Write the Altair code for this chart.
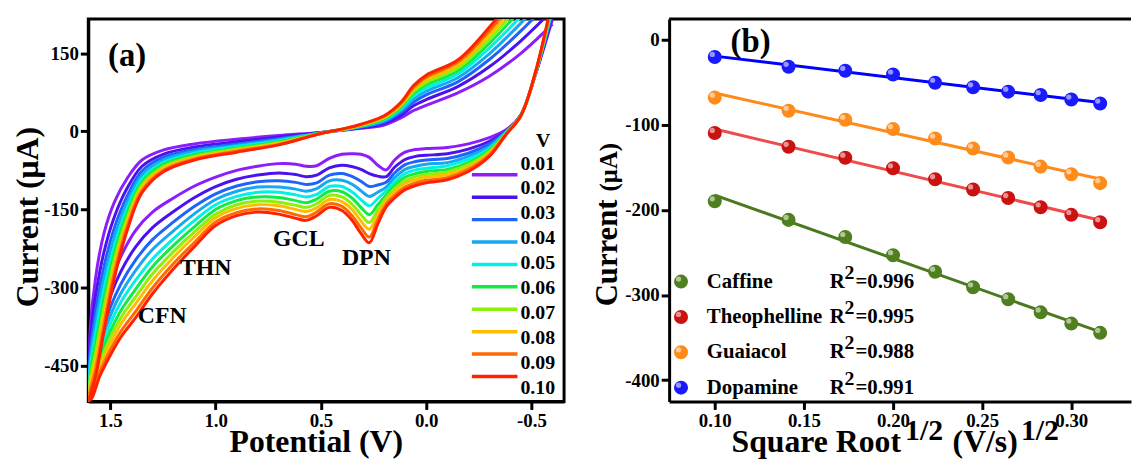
import altair as alt
import pandas as pd

FONT = "Liberation Serif"

# ---------------- Panel (a): cyclic voltammograms ----------------
rates = ["0.01", "0.02", "0.03", "0.04", "0.05", "0.06", "0.07", "0.08", "0.09", "0.10"]
rate_colors = ["#8d1dfb", "#4a12ee", "#1f63fb", "#16a8f2", "#00f2e4",
               "#12ea45", "#8cf00a", "#ffbd00", "#ff6a00", "#ff2200"]

# forward (upper) branch potentials, V
pot_up = [-0.60, -0.45, -0.30, -0.15, 0.00, 0.06, 0.12, 0.20, 0.35, 0.50, 0.70,
          0.90, 1.10, 1.25, 1.35, 1.42, 1.48, 1.53, 1.57, 1.60, 1.605]
cur_up = {
    "0.01": [206, 150, 106, 74, 50, 40, 26, 12, 4, -2, -8, -15, -24, -36, -55, -90, -135, -195, -280, -400, -518],
    "0.02": [233, 174, 124, 86, 61, 49, 31, 15, 5, -2, -11, -20, -30, -44, -67, -109, -163, -231, -316, -421, -518],
    "0.03": [255, 193, 138, 95, 70, 56, 36, 18, 6, -3, -14, -24, -35, -50, -76, -124, -184, -259, -345, -438, -518],
    "0.04": [272, 208, 149, 103, 77, 62, 40, 20, 6, -3, -16, -27, -38, -55, -84, -136, -202, -281, -367, -452, -518],
    "0.05": [288, 221, 160, 110, 83, 68, 43, 22, 7, -3, -18, -29, -42, -60, -91, -147, -218, -302, -388, -464, -518],
    "0.06": [302, 234, 169, 116, 89, 73, 46, 24, 7, -3, -20, -32, -45, -64, -97, -157, -232, -321, -407, -475, -518],
    "0.07": [315, 245, 177, 122, 94, 77, 49, 26, 8, -4, -22, -34, -48, -68, -103, -166, -245, -338, -424, -485, -518],
    "0.08": [327, 255, 185, 127, 99, 81, 51, 27, 8, -4, -23, -36, -50, -71, -108, -174, -257, -353, -440, -494, -518],
    "0.09": [340, 266, 193, 133, 104, 85, 54, 29, 9, -4, -25, -38, -53, -75, -114, -183, -270, -370, -457, -504, -518],
    "0.10": [350, 275, 200, 137, 108, 88, 56, 30, 9, -4, -26, -40, -55, -78, -118, -190, -280, -383, -470, -512, -518],
}

# reverse (lower) branch potentials, V
pot_down = [1.605, 1.59, 1.55, 1.50, 1.45, 1.38, 1.30, 1.20, 1.10, 1.00, 0.90, 0.80,
            0.70, 0.62, 0.57, 0.52, 0.46, 0.40, 0.35, 0.31, 0.27, 0.23, 0.19, 0.15,
            0.10, 0.05, 0.00, -0.10, -0.20, -0.30, -0.38, -0.45, -0.52, -0.60]
cur_down = {
    "0.01": [-518, -470, -370, -290, -240, -190, -155, -128, -105, -88, -75, -67, -62, -63, -67, -66, -52, -44, -43, -44, -50, -65, -74, -55, -40, -35, -33, -31, -24, -12, 3, 32, 110, 215],
    "0.02": [-518, -478, -389, -317, -269, -222, -185, -154, -127, -106, -92, -84, -80, -83, -87, -84, -70, -65, -68, -73, -81, -86, -87, -69, -54, -48, -46, -43, -34, -19, 1, 32, 111, 223],
    "0.03": [-518, -485, -404, -338, -293, -247, -208, -174, -144, -120, -105, -97, -95, -98, -102, -99, -84, -81, -87, -96, -106, -103, -98, -80, -64, -58, -55, -52, -42, -24, 0, 31, 112, 229],
    "0.04": [-518, -490, -416, -354, -311, -267, -227, -191, -158, -131, -115, -107, -107, -111, -115, -110, -95, -94, -102, -114, -125, -117, -107, -89, -73, -67, -63, -60, -48, -29, -1, 31, 112, 233],
    "0.05": [-518, -495, -427, -370, -328, -286, -245, -206, -171, -141, -125, -117, -117, -122, -126, -121, -106, -106, -117, -131, -143, -129, -114, -97, -81, -74, -71, -66, -54, -33, -2, 31, 113, 238],
    "0.06": [-518, -499, -437, -384, -344, -303, -260, -219, -183, -150, -133, -126, -127, -133, -137, -130, -115, -116, -129, -146, -160, -141, -122, -104, -88, -81, -77, -73, -60, -36, -3, 31, 113, 242],
    "0.07": [-518, -503, -446, -396, -358, -318, -274, -231, -193, -159, -141, -134, -136, -142, -146, -139, -123, -126, -141, -160, -175, -151, -128, -110, -95, -87, -83, -78, -64, -39, -4, 30, 114, 245],
    "0.08": [-518, -507, -454, -408, -370, -331, -287, -242, -202, -166, -148, -141, -143, -150, -154, -147, -131, -135, -151, -172, -188, -160, -134, -116, -100, -93, -88, -83, -69, -42, -5, 30, 114, 249],
    "0.09": [-518, -511, -463, -420, -384, -346, -301, -254, -213, -174, -156, -149, -152, -160, -164, -155, -139, -144, -163, -185, -203, -170, -140, -123, -107, -99, -94, -89, -73, -45, -5, 30, 115, 252],
    "0.10": [-518, -514, -470, -430, -395, -358, -312, -264, -221, -181, -162, -155, -159, -167, -171, -162, -146, -152, -172, -196, -214, -178, -145, -128, -112, -104, -99, -93, -77, -48, -6, 30, 115, 255],
}

peak_labels = ["GCL", "DPN", "THN", "CFN"]
peak_pot = [0.605, 0.284, 1.047, 1.254]
peak_cur = [-206, -244, -263, -354]

# ---------------- Panel (b): peak current vs sqrt(scan rate) ----------------
sqrt_rate = [0.1, 0.1414, 0.1732, 0.2, 0.2236, 0.2449, 0.2646, 0.2828, 0.3, 0.3162]
analytes = ["Caffine", "Theophelline", "Guaiacol", "Dopamine"]
r2_text = ["=0.996", "=0.995", "=0.988", "=0.991"]
peak_current = {
    "Caffine": [-189.9, -211.7, -231.8, -253.2, -272.6, -290.9, -304.9, -320.4, -333.6, -344.5],
    "Theophelline": [-109.5, -125.8, -138.6, -151.0, -163.9, -175.9, -186.0, -196.9, -205.8, -214.4],
    "Guaiacol": [-68.0, -83.5, -94.0, -104.9, -116.1, -127.8, -138.3, -149.1, -158.0, -168.5],
    "Dopamine": [-20.2, -31.8, -36.5, -40.8, -50.5, -55.9, -61.0, -64.9, -70.3, -75.0],
}
point_colors = ["#4f7f1f", "#cc1111", "#ff8c1a", "#1a1aff"]
line_colors = ["#4a7a20", "#f04a4a", "#ff8a1a", "#0000ff"]

# ---------------- tables ----------------
rows = []
for r in rates:
    assert len(cur_up[r]) == len(pot_up) and len(cur_down[r]) == len(pot_down)
    pts = list(zip(pot_up, cur_up[r])) + list(zip(pot_down, cur_down[r]))
    for i, (p, c) in enumerate(pts):
        rows.append({"rate": r, "idx": i, "pot": p, "cur": c})
cv = pd.DataFrame(rows)
leg_a = pd.DataFrame({"rate": rates})
ann = pd.DataFrame({"label": peak_labels, "pot": peak_pot, "cur": peak_cur})

brows = []
for n in analytes:
    for s, c in zip(sqrt_rate, peak_current[n]):
        brows.append({"name": n, "sx": s, "cur": c})
pb = pd.DataFrame(brows)
leg_b = pd.DataFrame({"name": analytes, "r2": r2_text})

W_A, W_B, H = 480, 466, 386


def txt(text, x, y, size, align="left", baseline="alphabetic", angle=0):
    return alt.Chart(pd.DataFrame({"t": [text]})).mark_text(
        font=FONT, fontWeight="bold", fontSize=size, align=align,
        baseline=baseline, angle=angle, color="black"
    ).encode(text="t:N", x=alt.value(x), y=alt.value(y))


def neg_expr(fmt):
    return ("datum.value < 0 ? '-' + format(-datum.value, '%s') : format(datum.value, '%s')"
            % (fmt, fmt))


# ---------------- Panel (a) chart ----------------
xa = alt.Scale(domain=[-0.655, 1.605], reverse=True, nice=False, zero=False)
ya = alt.Scale(domain=[-519, 216], nice=False, zero=False)
col_a = alt.Scale(domain=rates, range=rate_colors)
x_axis_a = alt.Axis(values=[1.5, 1.0, 0.5, 0.0, -0.5], labelExpr=neg_expr(".1f"), title=None)

cv_lines = alt.Chart(cv).mark_line(strokeWidth=3, clip=True, interpolate="catmull-rom").encode(
    x=alt.X("pot:Q", scale=xa, axis=x_axis_a),
    y=alt.Y("cur:Q", scale=ya, axis=alt.Axis(values=[150, 0, -150, -300, -450],
                                             labelExpr=neg_expr("d"), title=None)),
    color=alt.Color("rate:N", scale=col_a, legend=None),
    order=alt.Order("idx:Q"),
)

leg_y = alt.Scale(domain=rates, range=[146, 372], padding=0)
leg_rules = alt.Chart(leg_a).mark_rule(strokeWidth=3.5).encode(
    x=alt.value(387), x2=alt.value(433),
    y=alt.Y("rate:N", scale=leg_y, axis=None),
    color=alt.Color("rate:N", scale=col_a, legend=None),
)
leg_text = alt.Chart(leg_a).mark_text(
    font=FONT, fontWeight="bold", fontSize=20, align="left", baseline="middle", color="black"
).encode(x=alt.value(436), y=alt.Y("rate:N", scale=leg_y, axis=None), text="rate:N")

ann_text = alt.Chart(ann).mark_text(
    font=FONT, fontWeight="bold", fontSize=24, align="center", baseline="middle", color="black"
).encode(
    x=alt.X("pot:Q", scale=xa, axis=x_axis_a),
    y=alt.Y("cur:Q", scale=ya, axis=None),
    text="label:N",
)

marker = alt.Chart(pd.DataFrame({"m": [0]})).mark_rule(color="white", strokeWidth=1).encode(
    x=alt.value(-79), y=alt.value(-7), y2=alt.value(0)
)

panel_a = alt.layer(
    cv_lines, marker, leg_rules, leg_text, ann_text,
    txt("V", 459, 123, 20, align="center", baseline="middle"),
    txt("(a)", 20, 47, 33),
    txt("Current (μA)", -61, 200, 32, align="center", baseline="middle", angle=270),
    txt("Potential (V)", 230, 437, 32, align="center"),
).resolve_scale(y="independent").properties(
    width=W_A, height=H, view=alt.ViewBackground(stroke="black", strokeWidth=3)
)

# ---------------- Panel (b) chart ----------------
xb = alt.Scale(domain=[0.0744, 0.3335], nice=False, zero=False)
yb = alt.Scale(domain=[-425.2, 24.5], nice=False, zero=False)
pcol = alt.Scale(domain=analytes, range=point_colors)
lcol = alt.Scale(domain=analytes, range=line_colors)
x_axis_b = alt.Axis(values=[0.10, 0.15, 0.20, 0.25, 0.30], format=".2f", title=None)

fit_lines = alt.Chart(pb).transform_regression("sx", "cur", groupby=["name"]).mark_line(
    strokeWidth=3
).encode(
    x=alt.X("sx:Q", scale=xb, axis=x_axis_b),
    y=alt.Y("cur:Q", scale=yb, axis=alt.Axis(values=[0, -100, -200, -300, -400],
                                             labelExpr=neg_expr("d"), title=None)),
    color=alt.Color("name:N", scale=lcol, legend=None),
)
pts = alt.Chart(pb).mark_circle(size=200, opacity=1).encode(
    x=alt.X("sx:Q", scale=xb, axis=x_axis_b),
    y=alt.Y("cur:Q", scale=yb, axis=None),
    color=alt.Color("name:N", scale=pcol, legend=None),
)
shine = alt.Chart(pb).mark_circle(size=28, opacity=0.55, color="white", xOffset=-2.5, yOffset=-2.5).encode(
    x=alt.X("sx:Q", scale=xb, axis=x_axis_b),
    y=alt.Y("cur:Q", scale=yb, axis=None),
)

leg_yb = alt.Scale(domain=analytes, range=[265, 372], padding=0)
leg_pts = alt.Chart(leg_b).mark_circle(size=200, opacity=1).encode(
    x=alt.value(12), y=alt.Y("name:N", scale=leg_yb, axis=None),
    color=alt.Color("name:N", scale=pcol, legend=None),
)
leg_shine = alt.Chart(leg_b).mark_circle(size=28, opacity=0.55, color="white", xOffset=-2.5, yOffset=-2.5).encode(
    x=alt.value(12), y=alt.Y("name:N", scale=leg_yb, axis=None),
)
leg_names = alt.Chart(leg_b).mark_text(
    font=FONT, fontWeight="bold", fontSize=21, align="left", baseline="middle", color="black"
).encode(x=alt.value(38), y=alt.Y("name:N", scale=leg_yb, axis=None), text="name:N")
leg_R = alt.Chart(leg_b).mark_text(
    font=FONT, fontWeight="bold", fontSize=21, align="left", baseline="middle", color="black", text="R"
).encode(x=alt.value(162), y=alt.Y("name:N", scale=leg_yb, axis=None))
leg_sup = alt.Chart(leg_b).mark_text(
    font=FONT, fontWeight="bold", fontSize=20, align="left", baseline="middle", color="black",
    text="2", dy=-9
).encode(x=alt.value(177), y=alt.Y("name:N", scale=leg_yb, axis=None))
leg_r2 = alt.Chart(leg_b).mark_text(
    font=FONT, fontWeight="bold", fontSize=21, align="left", baseline="middle", color="black"
).encode(x=alt.value(188), y=alt.Y("name:N", scale=leg_yb, axis=None), text="r2:N")

top_border = alt.Chart(pd.DataFrame({"m": [0]})).mark_rule(color="black", strokeWidth=3).encode(
    x=alt.value(0), x2=alt.value(W_B), y=alt.value(0)
)

panel_b = alt.layer(
    fit_lines, pts, shine, leg_pts, leg_shine, leg_names, leg_R, leg_sup, leg_r2, top_border,
    txt("(b)", 62, 33, 33),
    txt("Current", -53, 290, 31, align="left", baseline="alphabetic", angle=270),
    txt("(μA)", -53, 174, 25, align="left", baseline="alphabetic", angle=270),
    txt("Square Root", 63, 437, 32),
    txt("1/2", 238, 425, 30),
    txt("(V/s)", 286, 437, 32),
    txt("1/2", 355, 425, 30),
).resolve_scale(y="independent", color="independent").properties(width=W_B, height=H)

chart = alt.hconcat(panel_a, panel_b, spacing=106, bounds="flush").properties(
    padding={"left": 0, "top": 0, "right": 0, "bottom": 0}
).configure_view(stroke=None).configure_axis(
    labelFont=FONT, labelFontWeight="bold", labelFontSize=19, labelColor="black",
    domainColor="black", domainWidth=3, tickColor="black", tickWidth=3, tickSize=8,
    grid=False, labelPadding=2,
)

chart.save("out.html", embed_options={"renderer": "svg", "actions": False})
